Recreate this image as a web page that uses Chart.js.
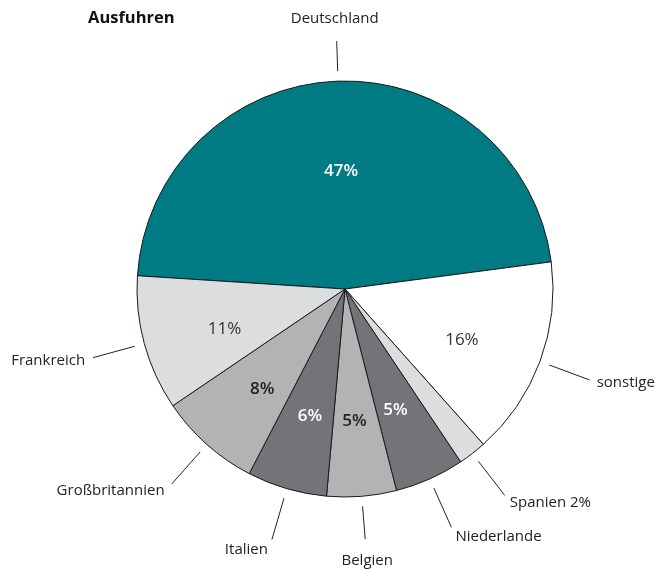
<!DOCTYPE html>
<html lang="de">
<head>
<meta charset="utf-8">
<title>Ausfuhren</title>
<script src="https://cdn.jsdelivr.net/npm/chart.js@4"></script>
<style>
  html, body { margin: 0; padding: 0; background: #fff; }
  #wrap { position: relative; width: 664px; height: 569px; }
</style>
</head>
<body>
<div id="wrap"><canvas id="chart"></canvas></div>
<script>
const title = "Ausfuhren";
const countries = ["Deutschland", "sonstige", "Spanien", "Niederlande", "Belgien", "Italien", "Großbritannien", "Frankreich"];
const shares = [46.9, 15.5, 2.2, 5.4, 5.4, 6.2, 7.9, 10.5];
const outerNames = ["Deutschland", "sonstige", "Spanien 2%", "Niederlande", "Belgien", "Italien", "Großbritannien", "Frankreich"];

const colors = ["#007a83", "#ffffff", "#dcdddf", "#737477", "#b2b3b5", "#737477", "#b2b3b5", "#dcdddf"];
const FONT = '"Open Sans", "Noto Sans", sans-serif';

// inner % label: radius factor, nudge, colour, weight (null = no inner label)
const inner = [
  { f: 0.57, dx: 0, dy: 1, color: "#ffffff", weight: "600" },
  { f: 0.61, dx: -2, dy: 7, color: "#333333", weight: "400" },
  null,
  { f: 0.62, dx: -2, dy: 3, color: "#ffffff", weight: "600" },
  { f: 0.63, dx: -1, dy: 2, color: "#222222", weight: "600" },
  { f: 0.62, dx: 1, dy: 3, color: "#ffffff", weight: "600" },
  { f: 0.62, dx: 3, dy: 4, color: "#222222", weight: "600" },
  { f: 0.61, dx: 2, dy: 7, color: "#333333", weight: "400" },
];

// leader line length beyond the rim and text placement relative to its end
const outer = [
  { len: 40, align: "center", dx: -2, dy: -22 },
  { len: 53, align: "left", dx: 7, dy: 3 },
  { len: 53, align: "left", dx: 5, dy: 7 },
  { len: 53, align: "left", dx: 4, dy: 9 },
  { len: 43, align: "center", dx: 2, dy: 22 },
  { len: 53, align: "right", dx: -4, dy: 10 },
  { len: 53, align: "right", dx: -7, dy: 7 },
  { len: 53, align: "right", dx: -8, dy: 3 },
];

const labelPlugin = {
  id: "pieLabels",
  afterDatasetsDraw(chart) {
    const { ctx } = chart;
    const arcs = chart.getDatasetMeta(0).data;
    ctx.save();
    ctx.textBaseline = "middle";
    arcs.forEach((arc, i) => {
      const { x, y, startAngle, endAngle, outerRadius: r } = arc.getProps(["x", "y", "startAngle", "endAngle", "outerRadius"], true);
      const mid = (startAngle + endAngle) / 2;
      const cos = Math.cos(mid), sin = Math.sin(mid);

      const inn = inner[i];
      if (inn) {
        ctx.font = `${inn.weight} 17px ${FONT}`;
        ctx.fillStyle = inn.color;
        ctx.textAlign = "center";
        ctx.fillText(Math.round(shares[i]) + "%", x + cos * r * inn.f + inn.dx, y + sin * r * inn.f + inn.dy);
      }

      const o = outer[i];
      const x1 = x + cos * (r + 10), y1 = y + sin * (r + 10);
      const x2 = x + cos * (r + o.len), y2 = y + sin * (r + o.len);
      ctx.strokeStyle = "#222";
      ctx.lineWidth = 1;
      ctx.beginPath();
      ctx.moveTo(x1, y1);
      ctx.lineTo(x2, y2);
      ctx.stroke();

      ctx.font = `400 15px ${FONT}`;
      ctx.fillStyle = "#222";
      ctx.textAlign = o.align;
      ctx.fillText(outerNames[i], x2 + o.dx, y2 + o.dy);
    });

    ctx.font = `700 16.5px ${FONT}`;
    ctx.fillStyle = "#111";
    ctx.textAlign = "left";
    ctx.fillText(title, 88, 18);
    ctx.restore();
  },
};

new Chart(document.getElementById("chart"), {
  type: "pie",
  data: {
    labels: countries,
    datasets: [{
      data: shares,
      backgroundColor: colors,
      borderColor: "#1a1a1a",
      borderWidth: 1,
    }],
  },
  options: {
    responsive: true,
    maintainAspectRatio: false,
    animation: false,
    rotation: -86.34,
    radius: 208,
    layout: { padding: { top: 81, bottom: 72, left: 137, right: 111 } },
    plugins: {
      legend: { display: false },
      tooltip: { enabled: false },
    },
  },
  plugins: [labelPlugin],
});
</script>
</body>
</html>
